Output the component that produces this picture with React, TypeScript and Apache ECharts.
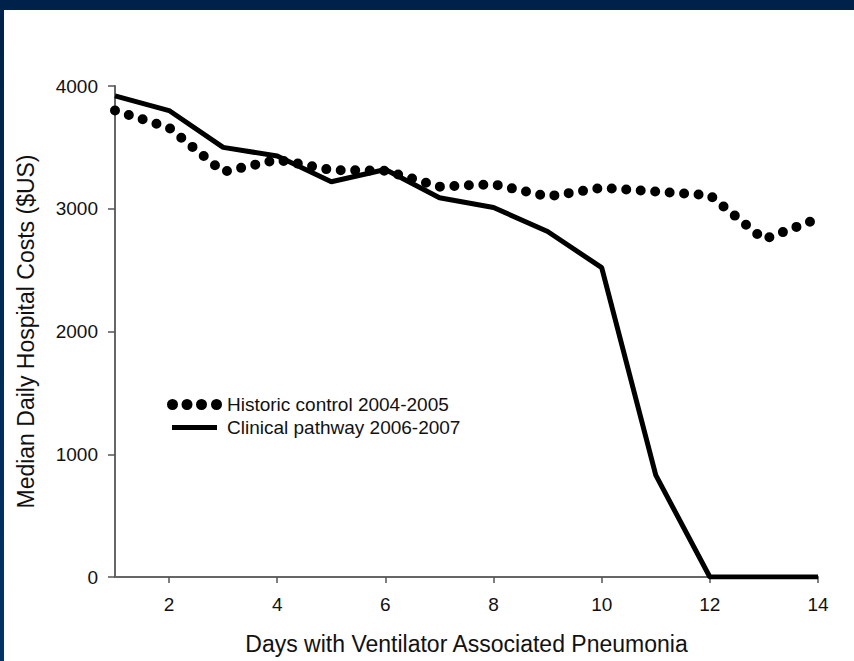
import React, { useEffect, useRef } from "react";
import * as echarts from "echarts";

const days = [1, 2, 3, 4, 5, 6, 7, 8, 9, 10, 11, 12, 13, 14];
const historicControl = [3800, 3660, 3300, 3400, 3315, 3310, 3180, 3200, 3100, 3170, 3140, 3110, 2750, 2920];
const clinicalPathway = [3920, 3800, 3500, 3430, 3220, 3320, 3090, 3010, 2815, 2520, 830, 0, 0, 0];
const xTicks = [2, 4, 6, 8, 10, 12, 14];
const seriesNames = ["Historic control 2004-2005", "Clinical pathway 2006-2007"];
const xTitle = "Days with Ventilator Associated Pneumonia";
const yTitle = "Median Daily Hospital Costs ($US)";

const circle = (cx: number) =>
  `M${cx - 5.5},5.5a5.5,5.5 0 1,0 11,0a5.5,5.5 0 1,0 -11,0z`;
const dotsIcon = "path://" + [5.5, 20, 34.5, 49.5].map(circle).join(" ");
const lineIcon =
  "path://M0,0h0.01v0.01h-0.01z M54.99,10.99h0.01v0.01h-0.01z M5,3h45v5h-45z";

export default function App() {
  const ref = useRef<HTMLDivElement>(null);
  useEffect(() => {
    document.body.style.margin = "0";
    const chart = echarts.init(ref.current!, undefined, { renderer: "svg" });
    const font = "'Liberation Sans', Arial, sans-serif";
    chart.setOption({
      animation: false,
      backgroundColor: new echarts.graphic.LinearGradient(0, 0, 0, 1, [
        { offset: 0, color: "#00224a" },
        { offset: 1, color: "#003466" },
      ]),
      graphic: [
        {
          type: "rect",
          shape: { x: 4, y: 10, width: 850, height: 651 },
          style: { fill: "#ffffff" },
          z: -10,
          silent: true,
        },
      ],
      grid: { left: 115, right: 36, top: 86, bottom: 84 },
      legend: {
        orient: "vertical",
        left: 162,
        top: 390,
        itemWidth: 55,
        itemHeight: 11,
        itemGap: 4,
        textStyle: { fontFamily: font, fontSize: 19, color: "#111" },
        data: [
          { name: seriesNames[0], icon: dotsIcon, itemStyle: { color: "#000" } },
          { name: seriesNames[1], icon: lineIcon, itemStyle: { color: "#000" } },
        ],
      },
      xAxis: {
        type: "value",
        min: 1,
        max: 14,
        name: xTitle,
        nameLocation: "middle",
        nameGap: 55,
        nameTextStyle: { fontFamily: font, fontSize: 23, color: "#111" },
        axisLine: { show: true, lineStyle: { color: "#666", width: 2 } },
        axisTick: { show: true, length: 6, customValues: xTicks, lineStyle: { color: "#555", width: 1.5 } },
        axisLabel: { customValues: xTicks, margin: 18, fontFamily: font, fontSize: 19, color: "#111" },
        splitLine: { show: false },
      },
      yAxis: {
        type: "value",
        min: 0,
        max: 4000,
        interval: 1000,
        name: yTitle,
        nameLocation: "middle",
        nameGap: 78,
        nameTextStyle: { fontFamily: font, fontSize: 23, color: "#111" },
        axisLine: { show: true, lineStyle: { color: "#666", width: 2 } },
        axisTick: { show: true, length: 7, lineStyle: { color: "#555", width: 1.5 } },
        axisLabel: {
          margin: 17,
          fontFamily: font,
          fontSize: 19,
          color: "#111",
          formatter: (v: number) => String(v),
        },
        splitLine: { show: false },
      },
      series: [
        {
          name: seriesNames[0],
          type: "line",
          symbol: "none",
          data: days.map((d, i) => [d, historicControl[i]]),
          lineStyle: { color: "#000", width: 10, type: [0, 14.5], cap: "round" },
          itemStyle: { color: "#000" },
          z: 3,
        },
        {
          name: seriesNames[1],
          type: "line",
          symbol: "none",
          data: days.map((d, i) => [d, clinicalPathway[i]]),
          lineStyle: { color: "#000", width: 5 },
          itemStyle: { color: "#000" },
          z: 4,
        },
      ],
    });
    return () => chart.dispose();
  }, []);
  return <div ref={ref} style={{ position: "absolute", left: 0, top: 0, width: 854, height: 661 }} />;
}
